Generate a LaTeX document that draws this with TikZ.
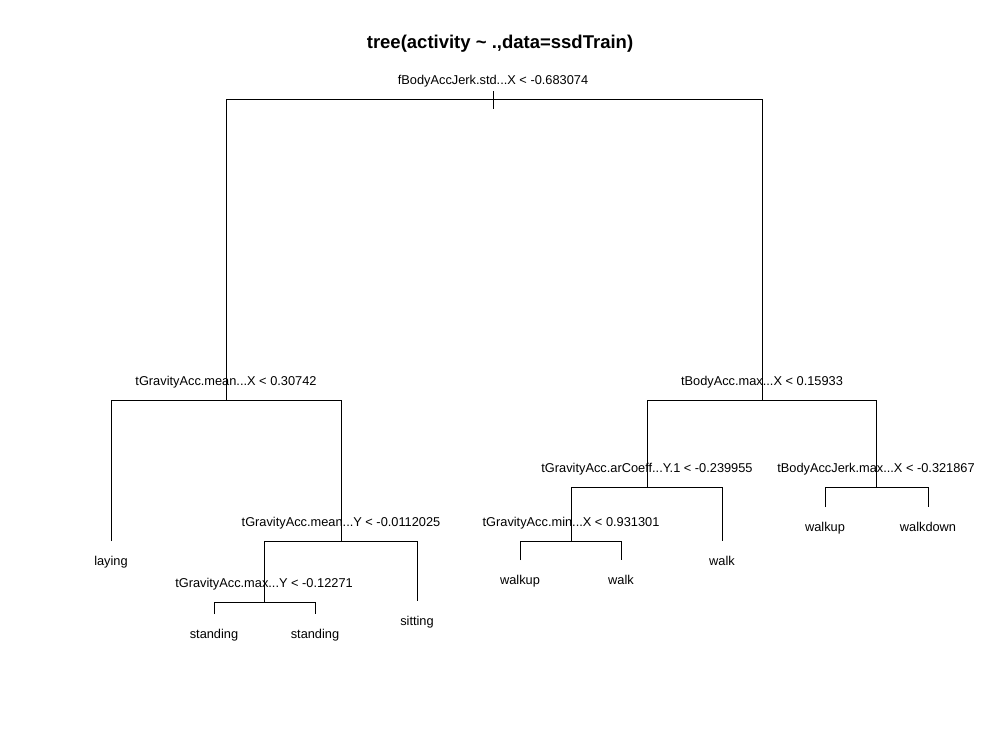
\documentclass[tikz,border=0pt]{standalone}
\usepackage{fontspec}
\setmainfont{Liberation Sans}
\usepackage{tikz}
\usetikzlibrary{positioning}

\begin{document}
\begin{tikzpicture}[x=1pt,y=-1pt]
\tikzstyle{every node}+=[inner sep=0pt]
\tikzstyle{branch}=[black, line width=1pt]
\tikzstyle{splitlab}=[font=\fontsize{12.8}{14}\selectfont]
\tikzstyle{leaflab}=[font=\fontsize{12.8}{14}\selectfont]
\useasboundingbox (0,0) rectangle (1000,732);
\node [font=\bfseries\fontsize{18.5}{20}\selectfont, anchor=base] (title) at (500,48) {tree(activity \textasciitilde{} .,data=ssdTrain)};
% split points
\coordinate (root) at (493,99);
\coordinate (l) at (226,400);
\coordinate (r) at (762,400);
\coordinate (lr) at (341,541);
\coordinate (lrl) at (264,602);
\coordinate (rl) at (647,487);
\coordinate (rll) at (571,541);
\coordinate (rr) at (876,487);
% leaf ends
\coordinate (ll) at (111,541);
\coordinate (lrll) at (214,614);
\coordinate (lrlr) at (315,614);
\coordinate (lrr) at (417,601);
\coordinate (rlll) at (520,560);
\coordinate (rllr) at (621,560);
\coordinate (rlr) at (722,541);
\coordinate (rrl) at (825,507);
\coordinate (rrr) at (928,507);
% branches
\draw [branch] ([yshift=8pt]root) -- ([yshift=-10pt]root);
\draw [branch] (l) -- (l |- root) -- (r |- root) -- (r);
\draw [branch] (ll) -- (ll |- l) -- (lr |- l) -- (lr);
\draw [branch] (lrl) -- (lrl |- lr) -- (lrr |- lr) -- (lrr);
\draw [branch] (lrll) -- (lrll |- lrl) -- (lrlr |- lrl) -- (lrlr);
\draw [branch] (rl) -- (rl |- r) -- (rr |- r) -- (rr);
\draw [branch] (rll) -- (rll |- rl) -- (rlr |- rl) -- (rlr);
\draw [branch] (rlll) -- (rlll |- rll) -- (rllr |- rll) -- (rllr);
\draw [branch] (rrl) -- (rrl |- rr) -- (rrr |- rr) -- (rrr);
% split labels
\node [splitlab, above=15pt of root, anchor=base] (rootlab) {fBodyAccJerk.std...X < -0.683074};
\node [splitlab, above=15pt of l, anchor=base] (llab) {tGravityAcc.mean...X < 0.30742};
\node [splitlab, above=15pt of r, anchor=base] (rlab) {tBodyAcc.max...X < 0.15933};
\node [splitlab, above=15pt of lr, anchor=base] (lrlab) {tGravityAcc.mean...Y < -0.0112025};
\node [splitlab, above=15pt of lrl, anchor=base] (lrllab) {tGravityAcc.max...Y < -0.12271};
\node [splitlab, above=15pt of rl, anchor=base] (rllab) {tGravityAcc.arCoeff...Y.1 < -0.239955};
\node [splitlab, above=15pt of rll, anchor=base] (rlllab) {tGravityAcc.min...X < 0.931301};
\node [splitlab, above=15pt of rr, anchor=base] (rrlab) {tBodyAccJerk.max...X < -0.321867};
% leaf labels
\node [leaflab, below=24pt of ll, anchor=base] (lllab) {laying};
\node [leaflab, below=24pt of lrll, anchor=base] (lrlllab) {standing};
\node [leaflab, below=24pt of lrlr, anchor=base] (lrlrlab) {standing};
\node [leaflab, below=24pt of lrr, anchor=base] (lrrlab) {sitting};
\node [leaflab, below=24pt of rlll, anchor=base] (rllllab) {walkup};
\node [leaflab, below=24pt of rllr, anchor=base] (rllrlab) {walk};
\node [leaflab, below=24pt of rlr, anchor=base] (rlrlab) {walk};
\node [leaflab, below=24pt of rrl, anchor=base] (rrllab) {walkup};
\node [leaflab, below=24pt of rrr, anchor=base] (rrrlab) {walkdown};
\end{tikzpicture}
\end{document}
